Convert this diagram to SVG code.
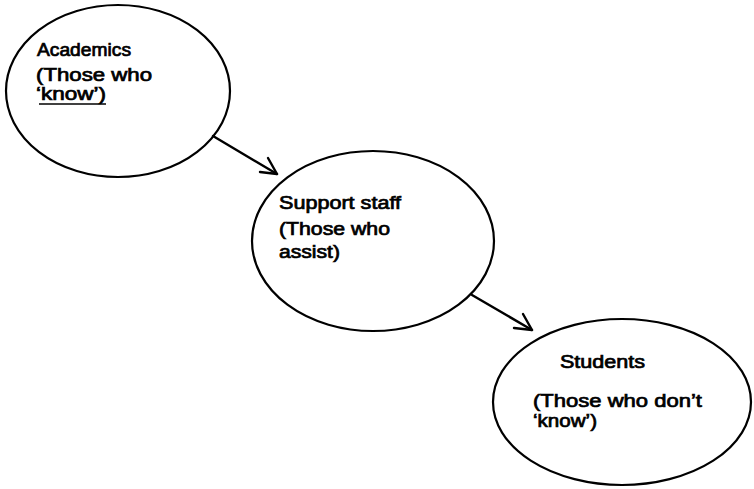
<svg xmlns="http://www.w3.org/2000/svg" width="754" height="489" viewBox="0 0 754 489">
<defs>
<style>
.node ellipse{fill:none;stroke:#000;stroke-width:2.2}
text{font-family:"Liberation Sans",Arial,sans-serif;font-size:17.5px;fill:#000;stroke:#000;stroke-width:0.7}
.conn line,.conn polyline{stroke:#000;stroke-width:2.4;fill:none;stroke-linecap:round;stroke-linejoin:round}
</style>
</defs>
<rect width="754" height="489" fill="#fff"/>
<g id="academics" class="node">
<ellipse cx="118" cy="91" rx="112" ry="86"/>
<text x="37" y="56" textLength="94" lengthAdjust="spacingAndGlyphs">Academics</text>
<text x="36" y="81" textLength="116" lengthAdjust="spacingAndGlyphs">(Those who</text>
<text x="36" y="100" textLength="70" lengthAdjust="spacingAndGlyphs">‘know’)</text>
<line x1="39" y1="104" x2="106" y2="104" stroke="#000" stroke-width="1.4"/>
</g>
<g id="support" class="node">
<ellipse cx="373" cy="241" rx="121" ry="90"/>
<text x="279" y="209" textLength="122" lengthAdjust="spacingAndGlyphs">Support staff</text>
<text x="279" y="235" textLength="111" lengthAdjust="spacingAndGlyphs">(Those who</text>
<text x="279" y="258" textLength="61" lengthAdjust="spacingAndGlyphs">assist)</text>
</g>
<g id="students" class="node">
<ellipse cx="622" cy="402" rx="129" ry="83"/>
<text x="560" y="368" textLength="85" lengthAdjust="spacingAndGlyphs">Students</text>
<text x="533" y="407" textLength="169" lengthAdjust="spacingAndGlyphs">(Those who don’t</text>
<text x="533" y="427" textLength="64" lengthAdjust="spacingAndGlyphs">‘know’)</text>
</g>
<g id="connectors" class="conn">
<line x1="213" y1="136" x2="277" y2="174"/>
<polyline points="268,158 277,174 260,172"/>
<line x1="472" y1="295" x2="532" y2="330"/>
<polyline points="523,314 532,330 514,328"/>
</g>
</svg>
